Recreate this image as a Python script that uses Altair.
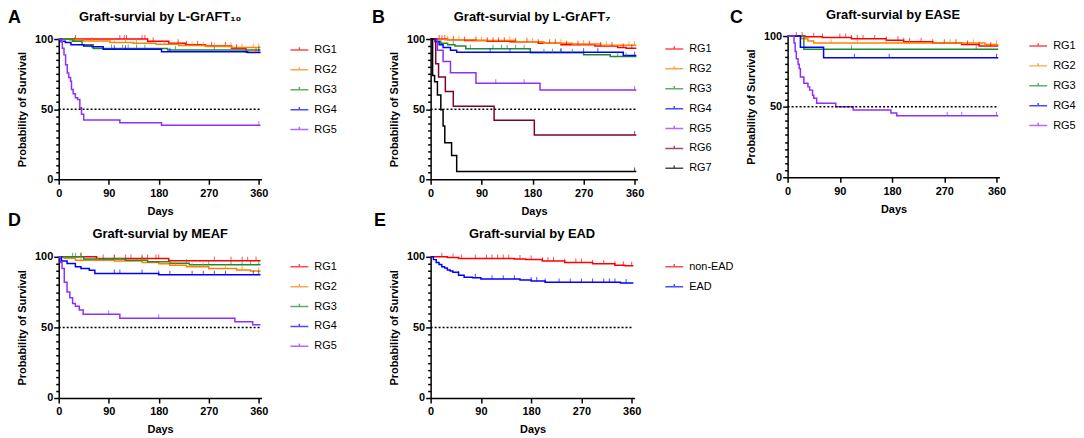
import altair as alt
import pandas as pd

FONT = "Liberation Sans"
RED, ORANGE, GREEN, BLUE = "#FF0000", "#FF8000", "#1E8B32", "#0000FF"
PURPLE, MAROON, BLACK = "#8E2EFF", "#800030", "#000000"

X_TICKS = [0, 90, 180, 270, 360]
Y_TICKS = list(range(0, 101, 5))

# ---------------- Panel A : L-GrAFT10 ----------------
A_GROUPS = ["RG1", "RG2", "RG3", "RG4", "RG5"]
A_COLORS = [RED, ORANGE, GREEN, BLUE, PURPLE]
A_DAYS = {
    "RG1": [0, 160, 198, 228, 264, 311, 337, 363],
    "RG2": [0, 20, 45, 92, 134, 175, 216, 264, 311, 363],
    "RG3": [0, 25, 42, 62, 196, 363],
    "RG4": [0, 4, 12, 22, 45, 60, 80, 185, 340, 363],
    "RG5": [0, 3.5, 6.5, 9.5, 12.4, 15.4, 18, 21.3, 23, 26, 30, 34, 38, 41, 45, 110, 185, 363],
}
A_SURV = {
    "RG1": [100, 98.5, 97, 96, 95, 93.5, 90.6, 90.6],
    "RG2": [100, 99.3, 98.6, 97.6, 97, 96.2, 95.3, 94.6, 94, 94],
    "RG3": [100, 98.5, 96, 93.3, 92.2, 92.2],
    "RG4": [100, 98.5, 97.5, 96, 95, 94.5, 92.7, 91, 90.3, 90.3],
    "RG5": [100, 98, 93.4, 88.7, 81.6, 75.8, 72.5, 69.9, 64, 61, 58.1, 56.9, 51, 46.4, 42.3, 40.3, 38.5, 38.5],
}
A_CENSOR = {
    "RG1": [30, 110, 118, 122, 150, 155, 170, 215, 230, 250, 275, 300, 320, 355],
    "RG2": [60, 100, 120, 140, 190, 220, 240, 260, 280, 300, 310, 330, 350, 360],
    "RG3": [28, 95, 115, 125, 140, 155, 210, 280, 360],
    "RG4": [100, 120, 200, 360],
    "RG5": [360],
}

# ---------------- Panel B : L-GrAFT7 ----------------
B_GROUPS = ["RG1", "RG2", "RG3", "RG4", "RG5", "RG6", "RG7"]
B_COLORS = [RED, ORANGE, GREEN, BLUE, PURPLE, MAROON, BLACK]
B_DAYS = {
    "RG1": [0, 30, 60, 100, 140, 190, 230, 290, 330, 345, 363],
    "RG2": [0, 25, 80, 150, 200, 250, 300, 363],
    "RG3": [0, 8, 18, 30, 43, 62, 176, 270, 317, 363],
    "RG4": [0, 8, 15, 22, 35, 46, 340, 363],
    "RG5": [0, 12, 22, 35, 80, 193, 363],
    "RG6": [0, 9, 14, 26, 40, 112, 183, 363],
    "RG7": [0, 3.5, 7, 12, 18, 22, 25, 37, 46, 363],
}
B_SURV = {
    "RG1": [100, 99.5, 99, 98.5, 98, 97, 96, 95, 94, 93.5, 93.5],
    "RG2": [100, 99.5, 99, 98, 97, 96.5, 95.5, 95.5],
    "RG3": [100, 98.5, 97, 96, 95, 93, 90.2, 88.8, 87.6, 87.6],
    "RG4": [100, 98, 96, 94, 92, 90.6, 88.3, 88.3],
    "RG5": [100, 92, 84, 76, 68.4, 63.7, 63.7],
    "RG6": [100, 82.4, 73, 62.5, 52, 42, 31.6, 31.6],
    "RG7": [100, 74, 69.6, 60, 49.6, 38, 26, 17, 5.6, 5.6],
}
B_CENSOR = {
    "RG1": [15, 20, 25, 40, 60, 80, 100, 110, 120, 130, 150, 170, 190, 210, 220, 240, 260, 280, 300, 320, 340, 355],
    "RG2": [30, 50, 90, 140, 180, 230, 270, 310, 350, 360],
    "RG3": [40, 70, 110, 125, 135, 150, 165, 200, 215, 230, 250, 330, 345],
    "RG4": [105, 140, 230, 270, 295, 360],
    "RG5": [115, 165, 360],
    "RG6": [360],
    "RG7": [360],
}

# ---------------- Panel C : EASE ----------------
C_GROUPS = ["RG1", "RG2", "RG3", "RG4", "RG5"]
C_COLORS = [RED, ORANGE, GREEN, BLUE, PURPLE]
C_DAYS = {
    "RG1": [0, 30, 60, 110, 170, 200, 250, 300, 330, 363],
    "RG2": [0, 24, 35, 45, 340, 363],
    "RG3": [0, 28, 363],
    "RG4": [0, 22, 62, 363],
    "RG5": [0, 11, 13, 15, 18, 20, 22, 28, 35, 38, 43, 45, 50, 83, 113, 178, 188, 363],
}
C_SURV = {
    "RG1": [100, 99.5, 99, 98, 97, 96, 95, 94, 93, 93],
    "RG2": [100, 98, 96.5, 95, 94, 94],
    "RG3": [100, 90.6, 90.6],
    "RG4": [100, 92, 84.7, 84.7],
    "RG5": [100, 95, 89, 84, 80, 77, 71, 66.5, 64, 61.7, 58, 56, 52.4, 50, 47.6, 45.5, 43.6, 43.6],
}
C_CENSOR = {
    "RG1": [15, 25, 45, 60, 90, 100, 110, 120, 130, 150, 170, 190, 200, 210, 230, 250, 270, 290, 310, 330, 350],
    "RG2": [75, 120, 170, 210, 280, 320, 360],
    "RG3": [110, 325],
    "RG4": [115, 175, 360],
    "RG5": [275, 300, 360],
}

# ---------------- Panel D : MEAF ----------------
D_GROUPS = ["RG1", "RG2", "RG3", "RG4", "RG5"]
D_COLORS = [RED, ORANGE, GREEN, BLUE, PURPLE]
D_DAYS = {
    "RG1": [0, 68, 198, 363],
    "RG2": [0, 10, 30, 100, 150, 180, 200, 230, 270, 320, 345, 363],
    "RG3": [0, 45, 120, 160, 200, 235, 363],
    "RG4": [0, 5, 15, 30, 40, 55, 65, 180, 363],
    "RG5": [0, 3, 6, 10, 15, 20, 25, 30, 37, 44, 110, 317, 349, 363],
}
D_SURV = {
    "RG1": [100, 98.8, 97.2, 97.2],
    "RG2": [100, 99, 97.6, 97, 96, 95, 94, 93, 91.8, 90.6, 90, 90],
    "RG3": [100, 98.5, 97.5, 96.5, 95.5, 94.3, 94.3],
    "RG4": [100, 97, 95.3, 93, 91.8, 90.5, 88.2, 87.3, 87.3],
    "RG5": [100, 96, 91.8, 82, 75, 71, 67, 65, 62.4, 59.3, 56.5, 54, 51.8, 51.8],
}
D_CENSOR = {
    "RG1": [40, 80, 100, 120, 130, 150, 160, 175, 180, 280, 310, 330, 340, 355],
    "RG2": [40, 70, 110, 150, 200, 210, 240, 260, 300, 330, 360],
    "RG3": [25, 30, 40, 100, 150, 230, 270, 310, 330, 345, 360],
    "RG4": [100, 110, 150, 180, 200, 240, 260, 280, 300, 350, 360],
    "RG5": [90, 180],
}

# ---------------- Panel E : EAD ----------------
E_GROUPS = ["non-EAD", "EAD"]
E_COLORS = [RED, BLUE]
E_DAYS = {
    "non-EAD": [0, 30, 50, 150, 170, 200, 240, 290, 330, 348, 363],
    "EAD": [0, 5, 10, 15, 20, 25, 30, 35, 40, 50, 60, 75, 90, 160, 180, 205, 340, 363],
}
E_SURV = {
    "non-EAD": [100, 99.5, 98.8, 98.5, 98.1, 97, 96, 95, 94, 93.6, 93.6],
    "EAD": [100, 98, 96, 94.5, 93, 92, 90.6, 90, 89, 87, 85.6, 85.2, 84.2, 83.5, 82.8, 81.9, 81.5, 81.5],
}
E_CENSOR = {
    "non-EAD": [20, 40, 55, 80, 100, 110, 120, 130, 140, 160, 180, 200, 210, 220, 240, 260, 270, 290, 310, 330, 345, 360],
    "EAD": [50, 80, 110, 130, 150, 180, 190, 205, 230, 250, 270, 290, 310, 320, 330, 350],
}


def surv_at(days, surv, t):
    v = surv[0]
    for d, s in zip(days, surv):
        if d <= t:
            v = s
    return v


def km_panel(groups, days, surv, censor, colors, width, plot_w, height, y_range,
             x_offset, legend_xy, letter, letter_xy, title, title_xy):
    rows, crows = [], []
    for g in groups:
        for d, s in zip(days[g], surv[g]):
            rows.append({"group": g, "day": d, "surv": s})
        for t in censor.get(g, []):
            crows.append({"group": g, "day": t, "surv": surv_at(days[g], surv[g], t)})
    df = pd.DataFrame(rows)
    cdf = pd.DataFrame(crows)
    rdf = pd.DataFrame({"day": [0], "day2": [362], "surv": [50]})

    x_enc = alt.X("day:Q", title="Days",
                  scale=alt.Scale(domain=[0, 365], range=[0, plot_w], nice=False),
                  axis=alt.Axis(values=X_TICKS, tickSize=5, labelPadding=3,
                                titlePadding=7, offset=x_offset, labelFlush=False))
    y_enc = alt.Y("surv:Q", title="Probability of Survival",
                  scale=alt.Scale(domain=[0, 100], range=y_range, nice=False),
                  axis=alt.Axis(values=Y_TICKS,
                                labelExpr="datum.value % 50 === 0 ? datum.label : ''",
                                tickSize={"condition": {"test": "datum.value % 50 === 0", "value": 5}, "value": 3},
                                labelPadding=1, titlePadding=7, labelFlush=False))
    legend = alt.Legend(orient="none", legendX=legend_xy[0], legendY=legend_xy[1],
                        title=None, symbolType="M-1,0H1M0,0V-0.3", symbolSize=324,
                        symbolStrokeWidth=1.5, labelFont=FONT, labelFontSize=11,
                        labelColor="black", labelOffset=5, rowPadding=5, padding=0)
    color = alt.Color("group:N", scale=alt.Scale(domain=groups, range=colors), legend=legend)

    lines = alt.Chart(df).mark_line(interpolate="step-after", strokeWidth=1.5).encode(
        x=x_enc, y=y_enc, color=color)
    ticks = alt.Chart(cdf).mark_tick(orient="vertical", size=4, thickness=1, yOffset=-2).encode(
        x=x_enc, y=y_enc, color=color)
    rule = alt.Chart(rdf).mark_rule(color="black", strokeDash=[2, 2], strokeWidth=1.5).encode(
        x=x_enc, x2="day2:Q", y=y_enc)
    letter_t = alt.Chart(pd.DataFrame({"t": [letter]})).mark_text(
        align="left", baseline="alphabetic", fontSize=18, fontWeight="bold", font=FONT, color="black"
    ).encode(text="t:N", x=alt.value(letter_xy[0]), y=alt.value(letter_xy[1]))
    title_t = alt.Chart(pd.DataFrame({"t": [title]})).mark_text(
        align="center", baseline="middle", fontSize=13, fontWeight="bold", font=FONT, color="black"
    ).encode(text="t:N", x=alt.value(title_xy[0]), y=alt.value(title_xy[1]))
    return alt.layer(lines, ticks, rule, letter_t, title_t).properties(width=width, height=height)


pA = km_panel(A_GROUPS, A_DAYS, A_SURV, A_CENSOR, A_COLORS, 223, 204, 144, [144, 3], 0,
              (232, 4), "A", (-51, -13), "Graft-survial by L-GrAFT\u2081\u2080", (102, -19))
pB = km_panel(B_GROUPS, B_DAYS, B_SURV, B_CENSOR, B_COLORS, 208, 208, 144, [144, 3], 0,
              (235, 3), "B", (-59, -13), "Graft-survial by L-GrAFT\u2087", (102, -19))
pC = km_panel(C_GROUPS, C_DAYS, C_SURV, C_CENSOR, C_COLORS, 213, 213, 144, [142, 0], -2,
              (242, 0), "C", (-58, -13), "Graft-survial by EASE", (106, -21))
pD = km_panel(D_GROUPS, D_DAYS, D_SURV, D_CENSOR, D_COLORS, 223, 204, 142, [142, 0], 0,
              (232, 0), "D", (-51, -31), "Graft-survial by MEAF", (102, -23))
pE = km_panel(E_GROUPS, E_DAYS, E_SURV, E_CENSOR, E_COLORS, 205, 205, 142, [142, 0], 0,
              (235, 0), "E", (-57, -31), "Graft-survial by EAD", (102, -23))

chart = alt.concat(
    pA, pB, pC, pD, pE, columns=3, spacing={"row": 78, "column": 151},
    bounds="flush", align="each"
).resolve_scale(
    x="independent", y="independent", color="independent"
).resolve_legend(color="independent").properties(padding=0).configure_view(
    stroke=None
).configure_axis(
    grid=False, domainColor="black", domainWidth=1.5, tickColor="black", tickWidth=1.5,
    labelColor="black", titleColor="black", labelFont=FONT, titleFont=FONT,
    labelFontSize=11, titleFontSize=11, labelFontWeight="bold", titleFontWeight="bold"
)

chart.save("out.html", embed_options={"renderer": "svg", "actions": False})
